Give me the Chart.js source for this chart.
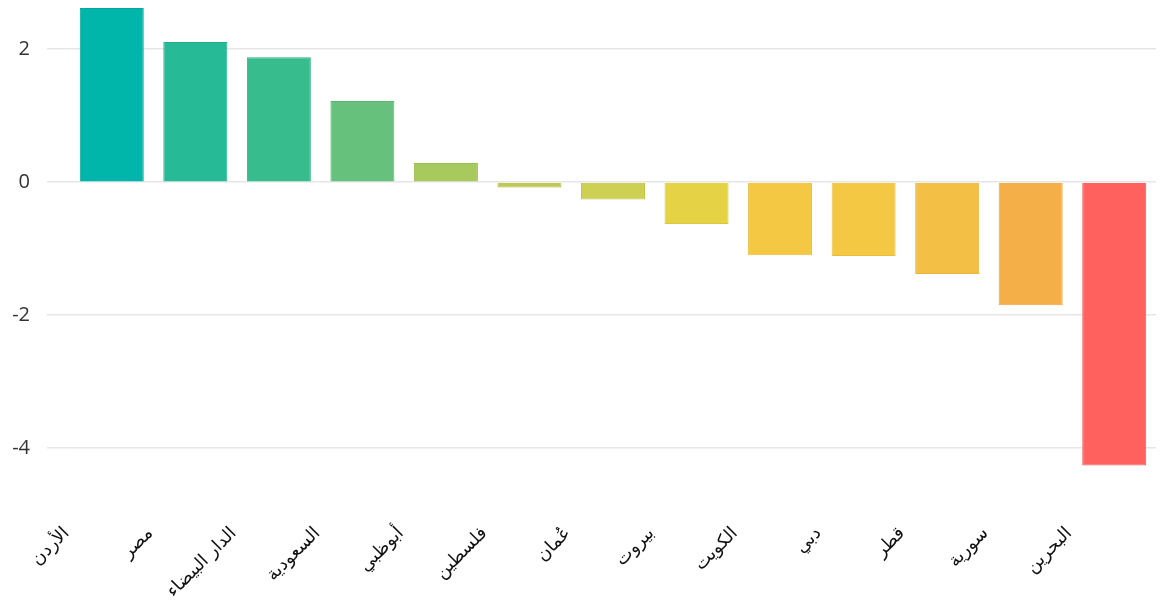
<!DOCTYPE html>
<html>
<head>
<meta charset="utf-8">
<script src="https://cdn.jsdelivr.net/npm/chart.js@4.4.1/dist/chart.umd.min.js"></script>
<style>
  html, body { margin: 0; padding: 0; background: #fff; }
  #wrap { width: 1172px; height: 605px; position: relative; }
</style>
</head>
<body>
<div id="wrap"><canvas id="chartCanvas"></canvas></div>
<script>
const cities = ["الأردن", "مصر", "الدار البيضاء", "السعودية", "أبوظبي", "فلسطين", "عُمان", "بيروت", "الكويت", "دبي", "قطر", "سورية", "البحرين"];
const values = [2.62, 2.11, 1.88, 1.22, 0.29, -0.08, -0.26, -0.63, -1.10, -1.11, -1.38, -1.85, -4.26];
const barColors = ["#00b5a9", "#26bb96", "#37bc8e", "#66c17c", "#a8c95e", "#bfc850", "#cdd053", "#e5d245", "#f4c843", "#f4c843", "#f3bf45", "#f5af48", "#ff625e"];
const borderColors = ["#00a89c", "#1fb08b", "#2fb184", "#5bb672", "#9dbe55", "#b3bd48", "#c2c54b", "#dbc63d", "#eabd3b", "#eabd3b", "#e9b33e", "#eba341", "#f05653"];
const yTicks = [-4, -2, 0, 2];

document.addEventListener('DOMContentLoaded', () => {
  const ctx = document.getElementById('chartCanvas').getContext('2d');

  new Chart(ctx, {
    type: 'bar',
    data: {
      labels: cities,
      datasets: [{
        data: values,
        backgroundColor: barColors,
        borderColor: borderColors,
        borderWidth: 1,
        barPercentage: 0.766,
        categoryPercentage: 1
      }]
    },
    options: {
      responsive: true,
      maintainAspectRatio: false,
      animation: false,
      layout: { padding: { top: 0, right: 16, bottom: 0, left: 0 } },
      plugins: {
        legend: { display: false },
        tooltip: { enabled: false }
      },
      scales: {
        y: {
          min: -4.6,
          max: 2.74,
          afterBuildTicks: scale => {
            scale.ticks = yTicks.map(v => ({ value: v }));
          },
          afterFit: scale => {
            scale.width = 70;
            scale.paddingTop = 0;
            scale.paddingBottom = 0;
          },
          border: { display: false },
          grid: { color: '#e6e6e6', lineWidth: 1.5, drawTicks: true, tickLength: 23 },
          ticks: {
            padding: 17,
            color: '#333',
            font: { family: "'Open Sans', 'Noto Sans', sans-serif", size: 20 }
          }
        },
        x: {
          afterFit: scale => {
            scale.height = 117;
            scale.paddingLeft = 0;
            scale.paddingRight = 0;
          },
          border: { display: false },
          grid: { display: false, drawTicks: false },
          ticks: {
            minRotation: 45,
            maxRotation: 45,
            autoSkip: false,
            padding: 35,
            labelOffset: -45,
            color: '#111',
            font: { family: "'DejaVu Sans', sans-serif", size: 18 }
          }
        }
      }
    }
  });
});
</script>
</body>
</html>
